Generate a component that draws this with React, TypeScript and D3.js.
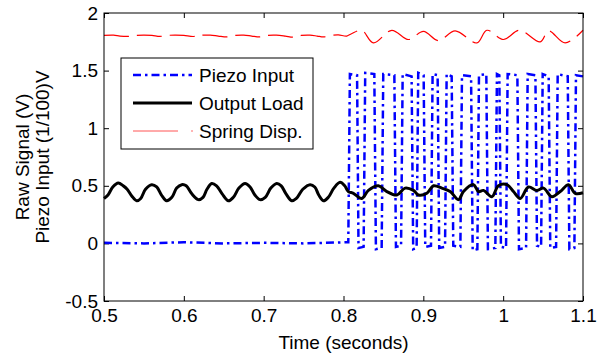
import React, { useRef, useEffect } from "react";
import * as d3 from "d3";

const xTicks = [0.5, 0.6, 0.7, 0.8, 0.9, 1, 1.1];
const yTicks = [-0.5, 0, 0.5, 1, 1.5, 2];
const seriesNames = ["Piezo Input", "Output Load", "Spring Disp."];

// [time (s), value]
const piezoInput: [number, number][] = [
  [0.5, 0.005], [0.55, 0.0], [0.6, 0.01], [0.65, 0.0], [0.7, 0.005], [0.75, 0.0], [0.806, 0.01],
  [0.808, 1.47], [0.817, 1.46], [0.8188, -0.04], [0.8252, -0.03], [0.8272, 1.48],
  [0.8386, 1.47], [0.8406, -0.05], [0.8478, -0.04], [0.8498, 1.47],
  [0.8637, 1.46], [0.8657, -0.03], [0.8721, -0.02], [0.8741, 1.47],
  [0.8853, 1.45], [0.8873, -0.05], [0.8916, -0.04], [0.8936, 1.48],
  [0.9004, 1.46], [0.9024, -0.03], [0.9096, -0.02], [0.9116, 1.47],
  [0.9179, 1.46], [0.9199, -0.04], [0.9272, -0.03], [0.9292, 1.47],
  [0.9355, 1.45], [0.9375, -0.02], [0.9464, -0.03], [0.9484, 1.46],
  [0.9598, 1.45], [0.9618, -0.06], [0.9677, -0.05], [0.9697, 1.46],
  [0.9789, 1.47], [0.9809, -0.05], [0.9902, -0.04], [0.9922, 1.47],
  [0.9952, 1.46], [0.9972, -0.03], [1.0036, -0.04], [1.0056, 1.47],
  [1.0178, 1.46], [1.0198, -0.05], [1.0287, -0.04], [1.0307, 1.47],
  [1.0404, 1.46], [1.0424, -0.02], [1.0475, -0.03], [1.0495, 1.47],
  [1.057, 1.45], [1.059, -0.04], [1.0663, -0.03], [1.0683, 1.47],
  [1.0809, 1.45], [1.0829, -0.05], [1.0892, -0.04], [1.0912, 1.46], [1.1, 1.45],
];

const outputLoad: [number, number][] = [
  [0.5, 0.39], [0.505, 0.42], [0.511, 0.49], [0.5179, 0.525], [0.524, 0.5], [0.529, 0.47],
  [0.535, 0.41], [0.541, 0.37], [0.546, 0.39], [0.552, 0.47], [0.5598, 0.51], [0.566, 0.49],
  [0.572, 0.42], [0.5785, 0.37], [0.585, 0.4], [0.591, 0.48], [0.5974, 0.51], [0.603, 0.5],
  [0.61, 0.43], [0.6182, 0.38], [0.624, 0.4], [0.629, 0.47], [0.635, 0.52], [0.641, 0.5],
  [0.648, 0.43], [0.6558, 0.37], [0.662, 0.4], [0.669, 0.48], [0.6767, 0.52], [0.683, 0.49],
  [0.689, 0.42], [0.6955, 0.38], [0.702, 0.4], [0.709, 0.48], [0.7164, 0.52], [0.722, 0.5],
  [0.728, 0.43], [0.7352, 0.37], [0.741, 0.39], [0.749, 0.47], [0.7581, 0.51], [0.764, 0.49],
  [0.769, 0.42], [0.7748, 0.37], [0.781, 0.4], [0.788, 0.48], [0.7957, 0.53], [0.8015, 0.5],
  [0.8061, 0.45], [0.8124, 0.435], [0.8229, 0.39], [0.8312, 0.46], [0.8437, 0.5], [0.8543, 0.45],
  [0.8668, 0.42], [0.8772, 0.48], [0.8876, 0.46], [0.8939, 0.42], [0.9044, 0.435], [0.9127, 0.5],
  [0.9232, 0.48], [0.9336, 0.45], [0.944, 0.38], [0.9503, 0.45], [0.9628, 0.51], [0.969, 0.45],
  [0.9753, 0.46], [0.9858, 0.405], [0.9941, 0.5], [1.0046, 0.51], [1.0129, 0.45], [1.0213, 0.39],
  [1.0317, 0.49], [1.0422, 0.46], [1.0505, 0.48], [1.061, 0.405], [1.0714, 0.45], [1.0818, 0.51],
  [1.0902, 0.435], [1.1, 0.44],
];

const springDisp: [number, number][] = [
  [0.5, 1.805], [0.512, 1.808], [0.52, 1.8], [0.53, 1.797], [0.54, 1.806], [0.55, 1.808],
  [0.56, 1.806], [0.57, 1.797], [0.58, 1.806], [0.59, 1.808], [0.6, 1.805], [0.612, 1.796],
  [0.62, 1.806], [0.633, 1.808], [0.643, 1.8], [0.654, 1.792], [0.664, 1.805], [0.675, 1.808],
  [0.685, 1.8], [0.695, 1.792], [0.705, 1.806], [0.716, 1.808], [0.727, 1.8], [0.737, 1.79],
  [0.747, 1.805], [0.758, 1.808], [0.767, 1.8], [0.775, 1.792], [0.785, 1.806], [0.7936, 1.81],
  [0.8041, 1.8], [0.81, 1.82], [0.8229, 1.85], [0.8375, 1.74], [0.8605, 1.85], [0.8814, 1.77],
  [0.9002, 1.84], [0.9189, 1.76], [0.9398, 1.845], [0.967, 1.74], [0.9796, 1.85], [1.0004, 1.77],
  [1.0205, 1.85], [1.0464, 1.75], [1.0568, 1.845], [1.0777, 1.74], [1.1, 1.85],
];

const FONT = "'Liberation Sans', Arial, Helvetica, sans-serif";
const FS = 19;

export default function App() {
  const svgRef = useRef<SVGSVGElement>(null);

  useEffect(() => {
    const svg = d3.select(svgRef.current);
    svg.selectAll("*").remove();

    const margin = { top: 13, right: 19, bottom: 52, left: 104 };
    const width = 602 - margin.left - margin.right;
    const height = 353 - margin.top - margin.bottom;

    const x = d3.scaleLinear().domain([0.5, 1.1]).range([0, width]);
    const y = d3.scaleLinear().domain([-0.5, 2]).range([height, 0]);

    const g = svg.append("g").attr("transform", `translate(${margin.left},${margin.top})`);

    g.append("rect").attr("width", width).attr("height", height).attr("fill", "white");

    g.append("clipPath").attr("id", "plot-clip")
      .append("rect").attr("x", -2).attr("y", -2).attr("width", width + 4).attr("height", height + 4);

    const fmt = (d: any) => String(d);

    // axes, ticks pointing inward on all four sides
    const styleAxis = (sel: any) => {
      sel.select(".domain").remove();
      sel.selectAll("line").attr("stroke", "black");
      sel.selectAll("text").attr("font-family", FONT).attr("font-size", FS).attr("fill", "black");
    };
    g.append("g").attr("transform", `translate(0,${height})`)
      .call(d3.axisBottom(x).tickValues(xTicks).tickSize(-5).tickPadding(8).tickFormat(fmt))
      .call(styleAxis);
    g.append("g")
      .call(d3.axisTop(x).tickValues(xTicks).tickSize(-5).tickFormat(() => ""))
      .call(styleAxis);
    g.append("g")
      .call(d3.axisLeft(y).tickValues(yTicks).tickSize(-5).tickPadding(6).tickFormat(fmt))
      .call(styleAxis);
    g.append("g").attr("transform", `translate(${width},0)`)
      .call(d3.axisRight(y).tickValues(yTicks).tickSize(-5).tickFormat(() => ""))
      .call(styleAxis);

    const plot = g.append("g").attr("clip-path", "url(#plot-clip)");

    const straight = d3.line<[number, number]>().x((d) => x(d[0])).y((d) => y(d[1]));
    const smooth = d3.line<[number, number]>().x((d) => x(d[0])).y((d) => y(d[1])).curve(d3.curveCatmullRom);

    plot.append("path").datum(piezoInput).attr("d", straight)
      .attr("fill", "none").attr("stroke", "#0000ff").attr("stroke-width", 2.5)
      .attr("stroke-dasharray", "8,4,2.5,4");

    plot.append("path").datum(outputLoad).attr("d", smooth)
      .attr("fill", "none").attr("stroke", "black").attr("stroke-width", 3)
      .attr("stroke-linejoin", "round");

    plot.append("path").datum(springDisp).attr("d", smooth)
      .attr("fill", "none").attr("stroke", "#ff0000").attr("stroke-width", 1.2)
      .attr("stroke-dasharray", "25,8");

    // frame
    g.append("rect").attr("width", width).attr("height", height)
      .attr("fill", "none").attr("stroke", "black").attr("stroke-width", 1);

    // axis titles
    g.append("text").attr("x", width / 2).attr("y", height + 48)
      .attr("text-anchor", "middle").attr("font-family", FONT).attr("font-size", FS)
      .text("Time (seconds)");

    const ylab = svg.append("g").attr("font-family", FONT).attr("font-size", FS).attr("text-anchor", "middle");
    ylab.append("text").attr("transform", `translate(29,${margin.top + height / 2}) rotate(-90)`)
      .text("Raw Signal (V)");
    ylab.append("text").attr("transform", `translate(49,${margin.top + height / 2}) rotate(-90)`)
      .text("Piezo Input (1/100)V");

    // legend
    const legend = svg.append("g").attr("transform", "translate(121,58)");
    legend.append("rect").attr("width", 192).attr("height", 91)
      .attr("fill", "white").attr("stroke", "black").attr("stroke-width", 1);
    const styles = [
      { color: "#0000ff", w: 2.5, dash: "8,4,2.5,4", x2: 71 },
      { color: "black", w: 3, dash: null, x2: 71 },
      { color: "#ff5555", w: 1, dash: null, x2: 57 },
    ];
    seriesNames.forEach((name, i) => {
      const cy = 17 + i * 28;
      const s = styles[i];
      legend.append("line").attr("x1", 12).attr("x2", s.x2).attr("y1", cy).attr("y2", cy)
        .attr("stroke", s.color).attr("stroke-width", s.w)
        .attr("stroke-dasharray", s.dash);
      legend.append("text").attr("x", 78).attr("y", cy).attr("dy", "0.35em")
        .attr("font-family", FONT).attr("font-size", FS).text(name);
    });
    legend.append("circle").attr("cx", 71).attr("cy", 73).attr("r", 0.7).attr("fill", "#ff3333");
  }, []);

  return (
    <svg ref={svgRef} width={602} height={353} style={{ position: "absolute", left: 0, top: 0 }} />
  );
}
